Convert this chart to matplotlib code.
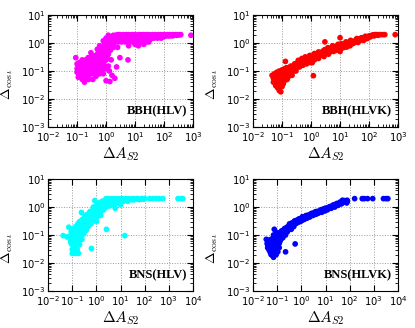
import matplotlib
matplotlib.use('Agg')
import matplotlib.pyplot as plt
from matplotlib.ticker import LogLocator

# Datos: pares (Delta A_S2, Delta cos iota)
bbh_hlv = [
    (2.5, 2.0), (3, 2.0), (4, 2.0), (5, 2.0), (6, 2.0), (8, 2.0), (10, 2.0), (13, 2.0), (16, 2.0), (20, 2.0),
    (25, 2.0), (30, 2.0), (40, 2.0), (50, 2.0), (65, 2.0), (80, 2.0), (100, 2.0), (130, 2.0), (160, 2.0),
    (200, 2.0), (250, 2.0), (300, 2.0), (380, 2.0), (850, 1.9),
    (2, 1.7), (2.8, 1.7), (3.5, 1.7), (4.5, 1.7), (5.5, 1.7), (7, 1.7), (9, 1.7), (11, 1.7), (14, 1.7),
    (18, 1.7), (22, 1.7), (28, 1.7), (35, 1.7), (45, 1.7), (55, 1.7), (70, 1.8), (90, 1.8), (120, 1.8),
    (150, 1.8), (200, 1.8),
    (2.2, 1.4), (3, 1.4), (4, 1.4), (5, 1.4), (6.5, 1.4), (8, 1.4), (10, 1.4), (13, 1.4), (17, 1.4),
    (21, 1.4), (27, 1.4), (35, 1.4), (45, 1.5), (60, 1.5), (80, 1.5),
    (2, 1.1), (2.6, 1.1), (3.4, 1.1), (4.5, 1.1), (6, 1.1), (8, 1.1), (12, 1.1), (16, 1.1), (25, 1.1),
    (6, 0.8), (10, 0.9), (20, 0.9), (30, 1.1), (2.5, 0.7), (13, 0.8),
    (1, 1.5), (1.2, 1.9), (1.5, 1.6), (1.8, 1.9), (1.3, 1.2), (1.6, 1.0), (1.0, 1.0), (0.8, 1.2),
    (1.3, 0.8), (1.8, 1.3), (0.9, 0.7), (1.1, 0.6), (0.7, 0.5), (1.4, 0.55), (1.2, 0.4), (0.9, 0.45),
    (1.8, 0.7),
    (0.5, 0.6), (0.6, 0.8), (0.7, 0.35), (0.8, 0.3), (0.5, 0.4), (0.6, 0.5), (0.45, 0.3), (0.55, 0.25),
    (0.65, 0.2), (0.75, 0.18), (0.85, 0.22), (1.0, 0.25), (0.9, 0.15), (1.1, 0.3), (1.5, 0.25), (0.4, 0.2),
    (0.35, 0.35), (0.3, 0.45), (0.6, 0.12), (0.7, 0.1), (0.8, 0.12), (1.0, 0.12), (1.3, 0.1), (1.2, 0.15),
    (0.09, 0.3), (0.1, 0.12), (0.1, 0.09), (0.11, 0.15), (0.12, 0.1), (0.12, 0.07), (0.13, 0.13),
    (0.14, 0.2), (0.14, 0.09), (0.15, 0.11), (0.16, 0.07), (0.17, 0.15), (0.18, 0.1), (0.18, 0.065),
    (0.2, 0.13), (0.2, 0.08), (0.2, 0.25), (0.22, 0.18), (0.23, 0.1), (0.25, 0.14), (0.25, 0.07),
    (0.27, 0.2), (0.28, 0.11), (0.3, 0.3), (0.3, 0.16), (0.3, 0.09), (0.33, 0.13), (0.35, 0.22),
    (0.37, 0.1), (0.4, 0.15), (0.4, 0.27), (0.45, 0.12), (0.5, 0.18), (0.5, 0.09), (0.55, 0.15),
    (0.15, 0.05), (0.18, 0.04), (0.25, 0.05), (0.35, 0.05), (0.45, 0.065), (0.6, 0.08), (0.8, 0.08),
    (1.0, 0.045), (1.35, 0.042), (2.0, 0.055), (1.6, 0.07), (2.3, 0.14), (5.7, 0.25), (3, 0.3),
    (0.1, 0.18), (0.11, 0.06), (0.12, 0.2), (0.13, 0.08), (0.14, 0.14), (0.15, 0.25), (0.16, 0.12),
    (0.17, 0.09), (0.19, 0.17), (0.21, 0.06), (0.21, 0.11), (0.24, 0.3), (0.24, 0.085), (0.26, 0.17),
    (0.29, 0.13), (0.32, 0.2), (0.34, 0.08), (0.36, 0.28), (0.38, 0.18), (0.42, 0.1), (0.42, 0.35),
    (0.48, 0.25), (0.52, 0.13), (0.55, 0.45), (0.58, 0.2), (0.62, 0.3), (0.66, 0.16), (0.7, 0.7),
    (0.72, 0.26), (0.78, 0.5), (0.82, 0.4), (0.88, 0.9), (0.95, 0.35), (1.05, 0.8), (1.1, 0.45),
    (1.15, 1.2), (1.25, 0.6), (1.35, 1.5), (1.45, 0.9), (1.6, 1.3), (1.7, 1.7), (1.9, 1.0), (2.2, 1.9),
    (2.4, 1.3), (2.7, 1.5), (3.2, 1.9), (3.8, 1.3), (4.2, 1.6), (4.8, 1.9), (5.5, 1.3), (6.5, 1.9),
    (7.5, 1.5), (9, 1.9), (11, 1.3), (14, 1.5), (18, 1.9), (24, 1.55), (32, 1.9), (38, 1.6), (50, 1.8),
    (60, 1.65), (100, 1.7), (110, 1.9), (140, 1.9), (170, 1.85), (220, 1.95), (270, 1.9), (330, 1.95),
]

bbh_hlvk = [
    (0.045, 0.07), (0.05, 0.055), (0.05, 0.04), (0.055, 0.08), (0.06, 0.065), (0.06, 0.045), (0.06, 0.03),
    (0.065, 0.09), (0.07, 0.055), (0.07, 0.035), (0.07, 0.025), (0.075, 0.075), (0.08, 0.1), (0.08, 0.06),
    (0.08, 0.045), (0.08, 0.02), (0.085, 0.03), (0.09, 0.08), (0.09, 0.05), (0.09, 0.018), (0.1, 0.11),
    (0.1, 0.065), (0.1, 0.04), (0.1, 0.028), (0.11, 0.09), (0.11, 0.055), (0.11, 0.035), (0.12, 0.12),
    (0.12, 0.075), (0.12, 0.045), (0.13, 0.22), (0.13, 0.1), (0.13, 0.06), (0.14, 0.085), (0.15, 0.13),
    (0.15, 0.07), (0.15, 0.05), (0.16, 0.1), (0.17, 0.12), (0.18, 0.08), (0.19, 0.14), (0.2, 0.1),
    (0.22, 0.13), (0.22, 0.07), (0.25, 0.15), (0.25, 0.1), (0.28, 0.12), (0.3, 0.18), (0.32, 0.13),
    (0.35, 0.2), (0.38, 0.15), (0.4, 0.22), (0.45, 0.17), (0.5, 0.24), (0.55, 0.19), (0.6, 0.27),
    (0.65, 0.2), (0.7, 0.25), (0.8, 0.3), (0.85, 0.22), (1.0, 0.32), (1.0, 0.25), (1.1, 0.2), (1.2, 0.35),
    (1.2, 0.068), (1.4, 0.28), (1.5, 0.4), (1.7, 0.32), (2, 0.45), (2, 0.35), (2.5, 0.5), (2.5, 0.38),
    (3, 0.58), (3, 0.42), (3, 1.1), (3.5, 0.5), (4, 0.62), (4.5, 0.48), (5, 0.68), (5, 0.55), (6, 0.62),
    (7, 0.75), (8, 0.6), (9, 0.8), (10, 0.7), (10, 0.5), (10, 1.55), (12, 0.85), (14, 0.7), (15, 0.95),
    (18, 0.85), (20, 1.05), (22, 0.8), (25, 1.15), (30, 1.0), (35, 1.3), (40, 1.15), (45, 1.4), (50, 1.25),
    (60, 1.5), (70, 1.35), (80, 1.65), (90, 1.5), (100, 1.8), (110, 1.65), (130, 1.9), (150, 1.8),
    (180, 2.0), (200, 1.9), (250, 2.0), (300, 2.0), (350, 2.0), (800, 2.0),
    (0.055, 0.06), (0.065, 0.04), (0.075, 0.05), (0.085, 0.065), (0.095, 0.035), (0.105, 0.08),
    (0.115, 0.07), (0.125, 0.055), (0.14, 0.13), (0.16, 0.06), (0.18, 0.11), (0.2, 0.15), (0.21, 0.085),
    (0.24, 0.12), (0.27, 0.18), (0.3, 0.1), (0.33, 0.16), (0.36, 0.24), (0.4, 0.14), (0.43, 0.2),
    (0.48, 0.28), (0.52, 0.16), (0.58, 0.23), (0.63, 0.32), (0.7, 0.18), (0.75, 0.28), (0.9, 0.36),
    (0.95, 0.2), (1.1, 0.28), (1.3, 0.42), (1.3, 0.25), (1.6, 0.36), (1.8, 0.48), (1.8, 0.28), (2.2, 0.4),
    (2.8, 0.55), (2.8, 0.33), (3.3, 0.47), (3.8, 0.68), (4, 0.4), (4.8, 0.6), (5.5, 0.8), (6, 0.5),
    (6.5, 0.7), (7.5, 0.55), (8.5, 0.9), (11, 0.62), (11, 0.95), (13, 0.75), (16, 1.1), (17, 0.72),
    (19, 0.95), (23, 1.25), (27, 0.95), (32, 1.15), (38, 1.45), (42, 1.05), (55, 1.55), (65, 1.25),
    (75, 1.75), (85, 1.45), (120, 1.85), (140, 1.95), (160, 2.0), (220, 2.0),
]

bns_hlv = [
    (0.042, 0.095), (0.072, 0.19), (0.24, 0.64), (0.53, 0.64), (0.85, 1.7), (15, 0.095), (2.6, 0.16),
    (0.62, 0.033), (0.06, 0.085),
    (0.08, 0.09), (0.09, 0.05), (0.09, 0.13), (0.1, 0.03), (0.1, 0.07), (0.1, 0.12), (0.1, 0.022),
    (0.11, 0.045), (0.11, 0.17), (0.12, 0.04), (0.12, 0.09), (0.12, 0.15), (0.12, 0.028), (0.13, 0.022),
    (0.13, 0.06), (0.14, 0.11), (0.14, 0.2), (0.15, 0.06), (0.15, 0.1), (0.15, 0.035), (0.15, 0.16),
    (0.16, 0.08), (0.17, 0.25), (0.18, 0.022), (0.18, 0.13), (0.18, 0.05), (0.2, 0.09), (0.2, 0.18),
    (0.2, 0.3), (0.2, 0.045), (0.22, 0.12), (0.23, 0.22), (0.25, 0.15), (0.25, 0.35), (0.25, 0.07),
    (0.28, 0.25), (0.3, 0.18), (0.3, 0.4), (0.3, 0.11), (0.33, 0.3), (0.35, 0.22), (0.35, 0.5),
    (0.38, 0.15), (0.4, 0.35), (0.4, 0.25), (0.45, 0.45), (0.45, 0.2), (0.5, 0.3), (0.5, 0.55),
    (0.55, 0.4), (0.6, 0.6), (0.6, 0.25), (0.65, 0.35), (0.7, 0.5), (0.7, 0.75), (0.8, 0.4), (0.8, 0.9),
    (0.9, 0.6), (1.0, 0.8), (1.0, 0.45), (1.0, 0.3), (1.1, 1.0), (1.2, 0.6), (1.3, 1.2), (1.4, 0.8),
    (1.5, 0.5), (1.6, 1.0), (1.8, 1.4), (2, 0.8), (2, 1.2), (2.2, 1.7), (2.5, 1.0), (2.8, 1.4), (3, 2.0),
    (3.5, 1.7), (3.5, 1.1), (4, 2.0), (4.5, 1.5), (5, 2.0), (5, 1.2), (6, 1.8), (6, 0.9), (7, 2.0),
    (8, 1.5), (9, 2.0), (10, 1.7), (10, 1.2), (12, 2.0), (14, 1.8), (17, 2.0), (20, 1.6), (22, 2.0),
    (28, 1.85), (32, 2.0), (40, 1.9), (50, 2.0), (60, 1.85), (75, 2.0), (90, 1.9), (100, 2.0),
    (160, 2.0), (220, 2.0), (300, 2.0), (400, 2.0), (570, 2.0), (2400, 2.0), (3200, 2.0), (3800, 2.0),
    (0.085, 0.06), (0.095, 0.1), (0.1, 0.045), (0.105, 0.15), (0.11, 0.03), (0.115, 0.08), (0.125, 0.12),
    (0.13, 0.035), (0.135, 0.17), (0.14, 0.05), (0.145, 0.08), (0.16, 0.13), (0.16, 0.03), (0.17, 0.065),
    (0.18, 0.2), (0.19, 0.1), (0.21, 0.25), (0.21, 0.065), (0.22, 0.15), (0.24, 0.1), (0.26, 0.2),
    (0.27, 0.3), (0.29, 0.14), (0.32, 0.22), (0.34, 0.4), (0.36, 0.15), (0.38, 0.3), (0.42, 0.2),
    (0.43, 0.55), (0.48, 0.35), (0.52, 0.25), (0.55, 0.7), (0.58, 0.45), (0.62, 0.3), (0.68, 0.6),
    (0.75, 0.4), (0.75, 1.0), (0.85, 0.55), (0.95, 1.1), (0.95, 0.4), (1.1, 0.7), (1.2, 1.4), (1.3, 0.5),
    (1.4, 1.1), (1.6, 0.7), (1.7, 1.6), (1.9, 1.0), (2.3, 1.4), (2.5, 2.0), (2.8, 1.1), (3.2, 1.6),
    (4, 1.2), (4.5, 1.9), (5.5, 1.6), (6.5, 2.0), (7, 1.4), (8, 1.9), (9, 1.6), (11, 1.9), (13, 1.6),
    (15, 1.9), (18, 1.8), (25, 1.9), (35, 1.8), (45, 2.0), (55, 1.9), (70, 1.9), (80, 2.0),
]

bns_hlvk = [
    (0.035, 0.07), (0.038, 0.05), (0.04, 0.035), (0.042, 0.06), (0.045, 0.03), (0.045, 0.045),
    (0.05, 0.06), (0.05, 0.04), (0.05, 0.025), (0.055, 0.05), (0.055, 0.02), (0.06, 0.03), (0.06, 0.07),
    (0.06, 0.045), (0.065, 0.018), (0.065, 0.055), (0.07, 0.08), (0.07, 0.035), (0.07, 0.016),
    (0.075, 0.16), (0.075, 0.06), (0.08, 0.04), (0.08, 0.025), (0.08, 0.1), (0.085, 0.07), (0.09, 0.05),
    (0.09, 0.12), (0.09, 0.02), (0.1, 0.03), (0.1, 0.07), (0.1, 0.09), (0.11, 0.05), (0.11, 0.11),
    (0.12, 0.035), (0.12, 0.08), (0.13, 0.12), (0.13, 0.06), (0.14, 0.1), (0.15, 0.14), (0.15, 0.08),
    (0.17, 0.11), (0.18, 0.15), (0.2, 0.12), (0.2, 0.17), (0.22, 0.025), (0.23, 0.14), (0.25, 0.19),
    (0.28, 0.16), (0.3, 0.21), (0.33, 0.18), (0.35, 0.24), (0.4, 0.2), (0.4, 0.27), (0.45, 0.23),
    (0.5, 0.29), (0.55, 0.048), (0.55, 0.25), (0.6, 0.32), (0.7, 0.28), (0.75, 0.35), (0.85, 0.3),
    (1.0, 0.4), (1.0, 0.32), (1.2, 0.44), (1.3, 0.36), (1.5, 0.48), (1.7, 0.4), (2, 0.52), (2.2, 0.44),
    (2.5, 0.58), (3, 0.5), (3.5, 0.63), (4, 0.55), (4.5, 0.7), (5, 0.6), (6, 0.75), (7, 0.65), (8, 0.85),
    (9, 0.72), (10, 0.92), (12, 0.8), (14, 1.0), (17, 0.9), (20, 1.15), (24, 1.0), (28, 1.3), (33, 1.15),
    (40, 1.5), (45, 1.3), (50, 1.75), (55, 1.5), (65, 1.65), (75, 1.4), (80, 1.6),
    (160, 2.0), (330, 2.0), (400, 2.0), (550, 2.0), (900, 2.0), (2500, 2.0), (3200, 2.0), (3800, 2.0),
    (0.04, 0.045), (0.045, 0.065), (0.05, 0.032), (0.055, 0.07), (0.06, 0.022), (0.06, 0.055),
    (0.065, 0.04), (0.07, 0.1), (0.07, 0.025), (0.075, 0.045), (0.08, 0.07), (0.085, 0.03), (0.09, 0.085),
    (0.095, 0.04), (0.1, 0.12), (0.1, 0.055), (0.105, 0.025), (0.11, 0.08), (0.12, 0.1), (0.12, 0.05),
    (0.13, 0.09), (0.14, 0.07), (0.15, 0.11), (0.16, 0.13), (0.17, 0.08), (0.19, 0.1), (0.21, 0.14),
    (0.22, 0.1), (0.24, 0.16), (0.26, 0.13), (0.3, 0.17), (0.32, 0.25), (0.36, 0.2), (0.38, 0.16),
    (0.42, 0.24), (0.48, 0.2), (0.52, 0.32), (0.6, 0.26), (0.65, 0.34), (0.8, 0.38), (0.9, 0.34),
    (1.1, 0.36), (1.1, 0.45), (1.4, 0.42), (1.6, 0.5), (1.8, 0.45), (2.3, 0.52), (2.8, 0.6), (3.2, 0.55),
    (3.8, 0.68), (4.2, 0.6), (5.5, 0.7), (6.5, 0.8), (7.5, 0.75), (9, 0.85), (11, 0.8), (13, 0.95),
    (16, 1.05), (19, 1.0), (22, 1.2), (26, 1.15), (30, 1.35), (36, 1.3), (42, 1.45), (48, 1.4),
    (60, 1.7), (70, 1.55), (78, 1.75),
]

paneles = [
    (bbh_hlv, '#FF00FF', 'BBH(HLV)', 1e3),
    (bbh_hlvk, '#FF0000', 'BBH(HLVK)', 1e3),
    (bns_hlv, '#00FFFF', 'BNS(HLV)', 1e4),
    (bns_hlvk, '#0000FF', 'BNS(HLVK)', 1e4),
]

fig = plt.figure(figsize=(4.15, 3.28), dpi=100)
posiciones = [
    [0.116, 0.613, 0.349, 0.341],
    [0.610, 0.613, 0.349, 0.341],
    [0.116, 0.113, 0.349, 0.341],
    [0.610, 0.113, 0.349, 0.341],
]

for (datos, color, etiqueta, xmax), pos in zip(paneles, posiciones):
    x, y = zip(*datos)
    ax = fig.add_axes(pos)
    ax.scatter(x, y, s=17, c=color, edgecolors='none', zorder=3)
    ax.set_xscale('log')
    ax.set_yscale('log')
    ax.set_xlim(1e-2, xmax)
    ax.set_ylim(1e-3, 1e1)
    ax.xaxis.set_major_locator(LogLocator(base=10, numticks=20))
    ax.yaxis.set_major_locator(LogLocator(base=10, numticks=20))
    ax.grid(True, which='major', linestyle=':', color='0.6', linewidth=0.7)
    ax.tick_params(which='both', direction='in', top=True, right=True, labelsize=7.2, pad=2)
    ax.tick_params(which='major', length=4)
    ax.tick_params(which='minor', length=2)
    ax.set_xlabel(r'$\Delta A_{S2}$', fontsize=11, labelpad=1, math_fontfamily='cm')
    ax.set_ylabel(r'$\Delta_{\cos\iota}$', fontsize=10, math_fontfamily='cm')
    # la etiqueta del eje y aparece algo por debajo del centro en el original
    ax.yaxis.set_label_coords(-0.23, 0.38)
    ax.text(0.96, 0.14, etiqueta, transform=ax.transAxes, ha='right', va='center',
            fontsize=9, fontweight='bold', family='Liberation Serif')

fig.savefig('out.png', dpi=100)
